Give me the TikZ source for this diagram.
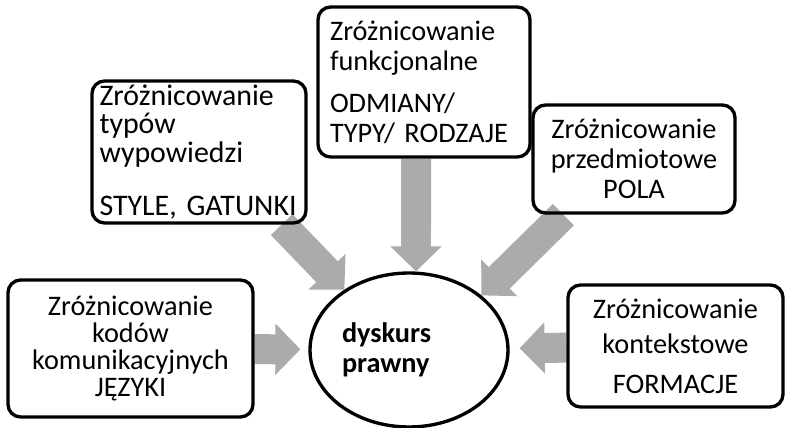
\documentclass[tikz,border=0pt]{standalone}
\usepackage{fontspec}
\setmainfont{Carlito}
\usetikzlibrary{shapes.geometric, arrows.meta, backgrounds}

\begin{document}
\begin{tikzpicture}[
    x=0.02cm, y=-0.02cm,
    ramka/.style={draw, line width=1.9pt, rounded corners=0.25cm, inner xsep=0.2cm, inner ysep=0pt},
    tekst/.style={font=\fontsize{16.1}{#1}\selectfont},
    strzalka/.style={draw=black!33, line width=0.6cm, -{Triangle[length=0.5cm 0, width=1cm 0]}}
]

% Frame
\useasboundingbox (0,0) rectangle (785,428);

% Centre
\node[ellipse, draw, line width=1.9pt, inner sep=0pt, minimum width=3.96cm, minimum height=3.08cm,
      text width=2.68cm, align=left, font=\bfseries\fontsize{16.1}{17.1}\selectfont] (dyskurs) at (409,350)
    {dyskurs\\ prawny};

% Boxes
\node[ramka, inner xsep=0.15cm, minimum width=4.28cm, minimum height=2.84cm, text width=3.98cm, align=left,
      font=\fontsize{17}{16.2}\selectfont] (typy) at (199,152)
    {Zróżnicowanie\\ typów\\ wypowiedzi\\[0.49cm] STYLE, GATUNKI};
\node[ramka, inner xsep=0.24cm, minimum width=4.24cm, minimum height=3cm, text width=3.76cm, align=left,
      tekst=17.1] (funkcje) at (424,82)
    {Zróżnicowanie\\ funkcjonalne\\[0.24cm] ODMIANY/\\ TYPY/ RODZAJE};
\node[ramka, minimum width=4.04cm, minimum height=2.16cm, text width=3.64cm, align=center,
      tekst=17.1] (przedmiot) at (634,159)
    {Zróżnicowanie\\ przedmiotowe\\ POLA};
\node[ramka, minimum width=4.9cm, minimum height=2.74cm, text width=4.5cm, align=center,
      tekst=15.4] (kody) at (130.5,348.5)
    {Zróżnicowanie\\ kodów\\ komunikacyjnych\\ JĘZYKI};
\node[ramka, minimum width=4.3cm, minimum height=2.44cm, text width=3.9cm, align=center,
      tekst=19.9] (kontekst) at (675.5,346)
    {Zróżnicowanie\\ kontekstowe\\[0.1cm] FORMACJE};

% Arrows into the centre
\begin{scope}[on background layer]
\draw[strzalka, shorten >=0.16cm] (kody) -- (dyskurs);
\draw[strzalka, shorten >=0.2cm] (kontekst) -- (dyskurs);
\draw[strzalka] ([xshift=-0.16cm]funkcje.south) -- ([xshift=0.14cm]dyskurs.north);
\draw[strzalka] ([xshift=-0.52cm]typy.south east) -- (dyskurs.137);
\draw[strzalka] ([xshift=0.64cm]przedmiot.south west) -- (dyskurs.37);
\end{scope}

\end{tikzpicture}
\end{document}
